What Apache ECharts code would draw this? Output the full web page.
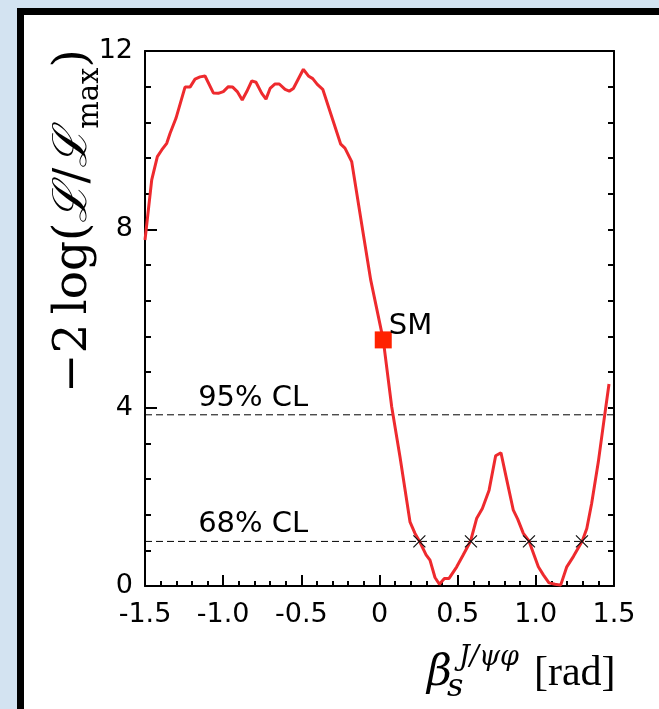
<!DOCTYPE html>
<html><head><meta charset="utf-8">
<script src="https://cdn.jsdelivr.net/npm/echarts@6/dist/echarts.min.js"></script>
<style>html,body{margin:0;padding:0;background:#d3e3f1;} #c{width:659px;height:709px;}</style>
</head><body><div id="c"></div>
<script>
// ---- data ----
const betaS = [-1.5, -1.457, -1.421, -1.393, -1.361, -1.340, -1.302, -1.244, -1.212, -1.180, -1.148, -1.116, -1.063, -1.031, -0.999, -0.967, -0.939, -0.910, -0.878, -0.849, -0.817, -0.790, -0.753, -0.726, -0.700, -0.668, -0.641, -0.604, -0.577, -0.551, -0.487, -0.455, -0.427, -0.398, -0.363, -0.306, -0.248, -0.221, -0.178, -0.104, -0.056, 0.024, 0.078, 0.131, 0.195, 0.227, 0.255, 0.298, 0.323, 0.355, 0.383, 0.415, 0.445, 0.494, 0.536, 0.583, 0.622, 0.658, 0.701, 0.743, 0.777, 0.814, 0.856, 0.884, 0.920, 0.956, 1.016, 1.048, 1.084, 1.123, 1.159, 1.198, 1.240, 1.297, 1.326, 1.357, 1.400, 1.436, 1.468];
const nll = [7.76, 9.11, 9.63, 9.78, 9.93, 10.15, 10.49, 11.19, 11.19, 11.37, 11.42, 11.44, 11.06, 11.05, 11.09, 11.20, 11.19, 11.09, 10.90, 11.09, 11.33, 11.30, 11.05, 10.92, 11.16, 11.26, 11.26, 11.14, 11.10, 11.16, 11.59, 11.44, 11.38, 11.25, 11.14, 10.53, 9.91, 9.82, 9.52, 7.90, 6.86, 5.52, 4.02, 2.90, 1.44, 1.18, 1.01, 0.70, 0.58, 0.19, 0.04, 0.17, 0.17, 0.43, 0.70, 1.01, 1.52, 1.74, 2.15, 2.92, 2.99, 2.38, 1.70, 1.50, 1.18, 1.01, 0.43, 0.25, 0.07, 0.04, 0.02, 0.43, 0.66, 1.01, 1.29, 1.85, 2.79, 3.72, 4.53];
const clLevels = [3.84, 1.0];
const clLabels = ['95% CL', '68% CL'];
const clLabelX = -1.16;
const crossX = [0.255, 0.585, 0.956, 1.295];
const crossY = 1.0;
const smPoint = [0.024, 5.52];
const smLabel = 'SM';
const xTickLabels = ['-1.5', '-1.0', '-0.5', '0', '0.5', '1.0', '1.5'];
const yTickLabels = ['0', '4', '8', '12'];
const xRange = [-1.5, 1.5];
const yRange = [0, 12];

// ---- chart ----
const chart = echarts.init(document.getElementById('c'), null, {renderer: 'canvas'});
const black = '#000';
const sans = 'DejaVu Sans';
const serif = 'DejaVu Serif';

const curve = betaS.map((x, i) => [x, nll[i]]);

const baseAxisLine = {show: true, onZero: false, lineStyle: {color: black, width: 2}};

const option = {
  animation: false,
  backgroundColor: '#d3e3f1',
  grid: {left: 145, right: 45, top: 51, bottom: 123, outerBoundsMode: 'none', containLabel: false},
  xAxis: [
    {
      type: 'value', min: xRange[0], max: xRange[1], interval: 0.5, position: 'bottom',
      axisLine: baseAxisLine,
      axisTick: {show: true, inside: true, length: 11, lineStyle: {color: black, width: 2}},
      minorTick: {show: true, splitNumber: 5, length: 5, lineStyle: {color: black, width: 2}},
      splitLine: {show: false}, minorSplitLine: {show: false},
      axisLabel: {
        show: true, margin: 15, fontSize: 27, fontFamily: sans, color: black,
        showMinLabel: true, showMaxLabel: true,
        formatter: v => xTickLabels[Math.round((v - xRange[0]) / 0.5)]
      }
    },
    {
      type: 'value', min: xRange[0], max: xRange[1], interval: 0.5, position: 'top',
      axisLine: baseAxisLine, axisTick: {show: false}, axisLabel: {show: false},
      splitLine: {show: false}
    }
  ],
  yAxis: [
    {
      type: 'value', min: yRange[0], max: yRange[1], interval: 4, position: 'left',
      axisLine: baseAxisLine,
      axisTick: {show: true, inside: true, length: 12, lineStyle: {color: black, width: 2}},
      minorTick: {show: true, splitNumber: 5, length: 6, lineStyle: {color: black, width: 2}},
      splitLine: {show: false}, minorSplitLine: {show: false},
      axisLabel: {
        show: true, margin: 12, fontSize: 27, fontFamily: sans, color: black,
        showMinLabel: true, showMaxLabel: true,
        formatter: v => yTickLabels[Math.round(v / 4)]
      }
    },
    {
      type: 'value', min: yRange[0], max: yRange[1], interval: 4, position: 'right',
      axisLine: baseAxisLine,
      axisTick: {show: true, inside: true, length: 6, lineStyle: {color: black, width: 2}},
      minorTick: {show: true, splitNumber: 5, length: 6, lineStyle: {color: black, width: 2}},
      splitLine: {show: false}, axisLabel: {show: false}
    }
  ],
  graphic: [
    {
      type: 'rect', z: -100, silent: true,
      shape: {x: 20.5, y: 11.5, width: 720, height: 740},
      style: {fill: '#fff', stroke: '#000', lineWidth: 7}
    },
    {
      type: 'group', rotation: Math.PI / 2, x: 74, y: 393, silent: true,
      children: [{
        type: 'text', z: 10,
        style: {
          text: '{a|\u22122\u2009log(}{L|\u2112}{a|/}{L|\u2112}{s|max}{a|)}',
          align: 'left', verticalAlign: 'middle', fill: black,
          rich: {
            a: {fontFamily: serif, fontSize: 47, lineHeight: 62, verticalAlign: 'middle', color: black},
            L: {fontFamily: serif, fontStyle: 'italic', fontSize: 47, lineHeight: 62, verticalAlign: 'middle', color: black},
            s: {fontFamily: serif, fontSize: 29, lineHeight: 31, verticalAlign: 'bottom', color: black}
          }
        }
      }]
    },
    {type: 'text', z: 10, x: 427, y: 674, silent: true,
     style: {text: '\u03B2', fontFamily: serif, fontStyle: 'italic', fontSize: 43, verticalAlign: 'middle', align: 'left', fill: black}},
    {type: 'text', z: 10, x: 447, y: 688, silent: true,
     style: {text: 's', fontFamily: serif, fontStyle: 'italic', fontSize: 32, verticalAlign: 'middle', align: 'left', fill: black}},
    {type: 'text', z: 10, x: 459, y: 658, silent: true,
     style: {text: 'J/\u03C8\u03C6', fontFamily: serif, fontStyle: 'italic', fontSize: 27, verticalAlign: 'middle', align: 'left', fill: black}},
    {type: 'text', z: 10, x: 534, y: 674, silent: true,
     style: {text: '[rad]', fontFamily: 'Liberation Serif', fontSize: 42, verticalAlign: 'middle', align: 'left', fill: black}}
  ],
  series: [
    ...clLevels.map(lvl => ({
      type: 'line', silent: true, z: 2, symbol: 'none',
      data: [[xRange[0], lvl], [xRange[1], lvl]],
      lineStyle: {color: black, width: 1, type: [7, 4]}
    })),
    {
      type: 'scatter', silent: true, z: 2, symbolSize: 0,
      itemStyle: {opacity: 1},
      data: clLevels.map((lvl, i) => ({value: [clLabelX, lvl], name: clLabels[i]})),
      label: {show: true, position: 'top', align: 'left', distance: 2, formatter: p => p.name,
              fontSize: 29, fontFamily: sans, color: black, opacity: 1}
    },
    {
      type: 'line', silent: true, z: 3, symbol: 'none', data: curve,
      lineStyle: {color: '#ee2a2e', width: 3}
    },
    {
      type: 'scatter', silent: true, z: 4,
      symbol: 'path://M0,0L10,10M10,0L0,10', symbolSize: 12,
      data: crossX.map(x => [x, crossY]),
      itemStyle: {color: 'none', borderColor: '#111', borderWidth: 1.2, opacity: 1}
    },
    {
      type: 'scatter', silent: true, z: 5,
      symbol: 'rect', symbolSize: 17,
      data: [{value: smPoint, name: smLabel}],
      itemStyle: {color: '#ff2200', opacity: 1},
      label: {show: true, position: 'right', distance: 0, offset: [-3, -13], formatter: p => p.name,
              fontSize: 29, fontFamily: sans, color: black, opacity: 1}
    }
  ]
};
chart.setOption(option);
</script>
</body></html>
